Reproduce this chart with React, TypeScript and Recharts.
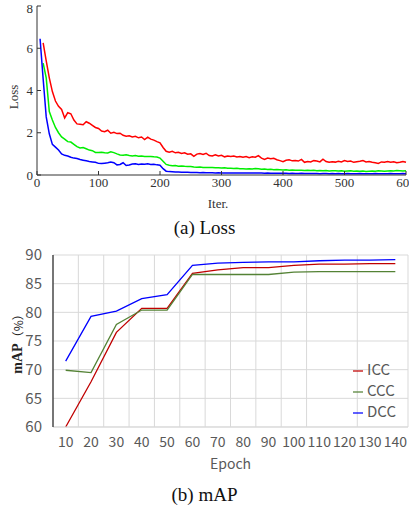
import { LineChart, Line, XAxis, YAxis, CartesianGrid, Legend } from 'recharts'

// (a) Loss, sampled every 5 iterations from 5 to 600
const iters = Array.from({ length: 120 }, (_, i) => (i + 1) * 5)

const redLoss = [
  null, 6.25, 5.4, 4.6, 3.95, 3.5, 3.25, 3.1, 2.7, 2.95,
  2.9, 2.6, 2.42, 2.4, 2.38, 2.52, 2.45, 2.35, 2.25, 2.2,
  2.08, 2.05, 2.12, 1.98, 2.02, 1.96, 1.98, 1.88, 1.84, 1.86,
  1.8, 1.83, 1.76, 1.8, 1.68, 1.79, 1.7, 1.65, 1.58, 1.52,
  1.3, 1.12, 1.08, 1.12, 1.05, 1.08, 1.02, 1.05, 0.98, 1.0,
  0.88, 0.99, 1.02, 0.97, 1.03, 0.92, 0.9, 0.96, 0.9, 0.93,
  0.86, 0.9, 0.88, 0.9, 0.85, 0.88, 0.84, 0.87, 0.82, 0.86,
  0.84, 0.92, 0.8, 0.74, 0.8, 0.77, 0.79, 0.72, 0.68, 0.63,
  0.7, 0.72, 0.67, 0.69, 0.66, 0.74, 0.6, 0.64, 0.62, 0.68,
  0.66, 0.62, 0.75, 0.64, 0.6, 0.63, 0.61, 0.65, 0.62, 0.68,
  0.64, 0.66, 0.6, 0.63, 0.65, 0.68, 0.62, 0.64, 0.6, 0.58,
  0.55, 0.62, 0.6, 0.64, 0.6, 0.63, 0.58, 0.6, 0.64, 0.6,
]

const greenLoss = [
  null, 5.3, 4.6, 3.0, 2.6, 2.25, 2.0, 1.8, 1.7, 1.58,
  1.56, 1.45, 1.34, 1.28, 1.3, 1.24, 1.18, 1.15, 1.07, 1.06,
  1.08, 1.05, 1.04, 1.1, 1.06, 1.0, 0.95, 0.93, 0.96, 0.92,
  0.9, 0.92, 0.89, 0.9, 0.88, 0.87, 0.88, 0.86, 0.85, 0.8,
  0.65, 0.5, 0.46, 0.44, 0.45, 0.42, 0.43, 0.41, 0.4, 0.4,
  0.38, 0.37, 0.38, 0.36, 0.36, 0.35, 0.36, 0.34, 0.34, 0.33,
  0.34, 0.32, 0.32, 0.31, 0.32, 0.3, 0.3, 0.29, 0.3, 0.28,
  0.31, 0.3, 0.27, 0.28, 0.26, 0.27, 0.25, 0.26, 0.25, 0.24,
  0.25, 0.23, 0.24, 0.22, 0.23, 0.22, 0.21, 0.22, 0.21, 0.22,
  0.2, 0.21, 0.2, 0.21, 0.19, 0.2, 0.2, 0.19, 0.2, 0.18,
  0.19, 0.2, 0.18, 0.19, 0.18, 0.19, 0.17, 0.18, 0.19, 0.18,
  0.2, 0.19, 0.18, 0.19, 0.2, 0.19, 0.21, 0.2, 0.19, 0.2,
]

const blueLoss = [
  6.45, 4.55, 2.75, 1.95, 1.45, 1.32, 1.18, 1.0, 0.93, 0.9,
  0.84, 0.8, 0.78, 0.73, 0.7, 0.67, 0.64, 0.62, 0.6, 0.55,
  0.54, 0.56, 0.58, 0.62, 0.58, 0.48, 0.5, 0.58, 0.45, 0.47,
  0.52, 0.53, 0.5, 0.52, 0.51, 0.53, 0.5, 0.51, 0.48, 0.46,
  0.3, 0.18, 0.16, 0.15, 0.14, 0.14, 0.13, 0.13, 0.13, 0.12,
  0.12, 0.12, 0.11, 0.12, 0.11, 0.11, 0.11, 0.1, 0.11, 0.1,
  0.1, 0.1, 0.1, 0.1, 0.09, 0.1, 0.09, 0.09, 0.09, 0.09,
  0.09, 0.1, 0.09, 0.08, 0.09, 0.08, 0.08, 0.08, 0.08, 0.08,
  0.08, 0.07, 0.08, 0.07, 0.07, 0.08, 0.07, 0.07, 0.07, 0.07,
  0.07, 0.06, 0.07, 0.07, 0.06, 0.07, 0.06, 0.07, 0.06, 0.06,
  0.07, 0.06, 0.06, 0.06, 0.07, 0.06, 0.06, 0.06, 0.06, 0.07,
  0.06, 0.06, 0.06, 0.06, 0.07, 0.06, 0.06, 0.06, 0.07, 0.06,
]

const lossXTicks = [0, 100, 200, 300, 400, 500, 600]
const lossYTicks = [0, 2, 4, 6, 8]

// (b) mAP
const epochs = [10, 20, 30, 40, 50, 60, 70, 80, 90, 100, 110, 120, 130, 140]
const icc = [60, 67.9, 76.5, 80.7, 80.7, 86.8, 87.4, 87.8, 87.8, 88.2, 88.4, 88.4, 88.5, 88.5]
const ccc = [69.9, 69.5, 77.9, 80.4, 80.4, 86.6, 86.6, 86.6, 86.6, 87.0, 87.1, 87.1, 87.1, 87.1]
const dcc = [71.5, 79.3, 80.2, 82.4, 83.1, 88.2, 88.6, 88.7, 88.8, 88.8, 89.0, 89.1, 89.1, 89.2]
const mapSeries = ['ICC', 'CCC', 'DCC']
const mapYTicks = [60, 65, 70, 75, 80, 85, 90]

const lossData = iters.map((it, i) => ({ iter: it, red: redLoss[i], green: greenLoss[i], blue: blueLoss[i] }))
const mapData = epochs.map((e, i) => ({ epoch: e, ICC: icc[i], CCC: ccc[i], DCC: dcc[i] }))
const gridBounds = epochs.map((e) => e - 5).concat([epochs[epochs.length - 1] + 5])

const serif = '"Liberation Serif", "Times New Roman", serif'
const sans = '"Noto Sans CJK SC", "Noto Sans", sans-serif'

const LossYLabel = () => (
  <text x={13} y={97} transform="rotate(-90 13 97)" textAnchor="middle" dominantBaseline="central"
    fontFamily={serif} fontSize={13} fill="#333">Loss</text>
)

const IterLabel = () => (
  <text x={218} y={203} textAnchor="middle" dominantBaseline="central"
    fontFamily={serif} fontSize={13} fill="#333">Iter.</text>
)

const MapYLabel = (props: any) => {
  const vb = props.viewBox
  const cx = 17
  const cy = vb.y + vb.height / 2
  return (
    <text x={cx} y={cy} transform={`rotate(-90 ${cx} ${cy})`} textAnchor="middle" dominantBaseline="central" fill="#222">
      <tspan fontFamily={serif} fontWeight="bold" fontSize={14}>mAP</tspan>
      <tspan fontFamily={sans} fontSize={12}>（%）</tspan>
    </text>
  )
}

const EpochLabel = (props: any) => {
  const vb = props.viewBox
  return (
    <text x={vb.x + vb.width / 2} y={vb.y + 36} textAnchor="middle" dominantBaseline="central"
      fontFamily={sans} fontSize={14} fill="#595959">Epoch</text>
  )
}

export default function App() {
  return (
    <div style={{ position: 'absolute', left: 0, top: 0, width: 409, height: 508, background: '#fff', overflow: 'hidden' }}>
      <div style={{ position: 'absolute', left: 0, top: 0 }}>
        <LineChart width={430} height={210} data={lossData} margin={{ top: 6, right: 24, bottom: 5, left: 7 }}>
          <XAxis
            dataKey="iter"
            type="number"
            domain={[0, 600]}
            ticks={lossXTicks}
            height={30}
            tickSize={-4}
            tickMargin={7}
            stroke="#333"
            tick={{ fontFamily: serif, fontSize: 13, fill: '#333' }}
            label={<IterLabel />}
          />
          <YAxis
            type="number"
            domain={[0, 8]}
            ticks={lossYTicks}
            width={30}
            tickSize={-4}
            tickMargin={8}
            stroke="#333"
            tick={{ fontFamily: serif, fontSize: 13, fill: '#333' }}
            label={<LossYLabel />}
          />
          <Line type="linear" dataKey="red" stroke="#ff0000" strokeWidth={1.5} dot={false} isAnimationActive={false} />
          <Line type="linear" dataKey="green" stroke="#00ee00" strokeWidth={1.5} dot={false} isAnimationActive={false} />
          <Line type="linear" dataKey="blue" stroke="#0000ff" strokeWidth={1.5} dot={false} isAnimationActive={false} />
        </LineChart>
      </div>
      <div style={{ position: 'absolute', left: 0, top: 216, width: 409, textAlign: 'center', fontFamily: serif, fontSize: 19, color: '#111', lineHeight: '24px' }}>
        (a) Loss
      </div>

      <div style={{ position: 'absolute', left: 0, top: 240 }}>
        <LineChart width={409} height={232} data={mapData} margin={{ top: 15, right: 1, bottom: 5, left: 0 }}>
          <CartesianGrid stroke="#d9d9d9" xAxisId="grid" />
          <XAxis
            xAxisId="grid"
            dataKey="epoch"
            type="number"
            domain={[5, 145]}
            ticks={gridBounds}
            hide
          />
          <XAxis
            dataKey="epoch"
            type="number"
            domain={[5, 145]}
            ticks={epochs}
            interval={0}
            height={40}
            tickLine={false}
            tickMargin={4}
            axisLine={{ stroke: '#d9d9d9' }}
            tick={{ fontFamily: sans, fontSize: 14, fill: '#595959' }}
            label={<EpochLabel />}
          />
          <YAxis
            type="number"
            domain={[60, 90]}
            ticks={mapYTicks}
            width={53}
            tickLine={false}
            tickMargin={5}
            axisLine={{ stroke: '#000' }}
            tick={{ fontFamily: sans, fontSize: 15, fill: '#595959' }}
            label={<MapYLabel />}
          />
          <Legend
            layout="vertical"
            align="center"
            verticalAlign="middle"
            iconType="plainline"
            iconSize={10}
            itemSorter={(item: any) => mapSeries.indexOf(item.value)}
            wrapperStyle={{ left: 353, top: 119, width: 60, lineHeight: '20px' }}
            formatter={(value: string) => (
              <span style={{ color: '#595959', fontFamily: sans, fontSize: 15 }}>{value}</span>
            )}
          />
          <Line type="linear" dataKey="ICC" name="ICC" stroke="#c00000" strokeWidth={1.3} dot={false} isAnimationActive={false} />
          <Line type="linear" dataKey="CCC" name="CCC" stroke="#548235" strokeWidth={1.3} dot={false} isAnimationActive={false} />
          <Line type="linear" dataKey="DCC" name="DCC" stroke="#0000ff" strokeWidth={1.3} dot={false} isAnimationActive={false} />
        </LineChart>
      </div>
      <div style={{ position: 'absolute', left: 0, top: 483, width: 409, textAlign: 'center', fontFamily: serif, fontSize: 19, color: '#111', lineHeight: '24px' }}>
        (b) mAP
      </div>
    </div>
  )
}
